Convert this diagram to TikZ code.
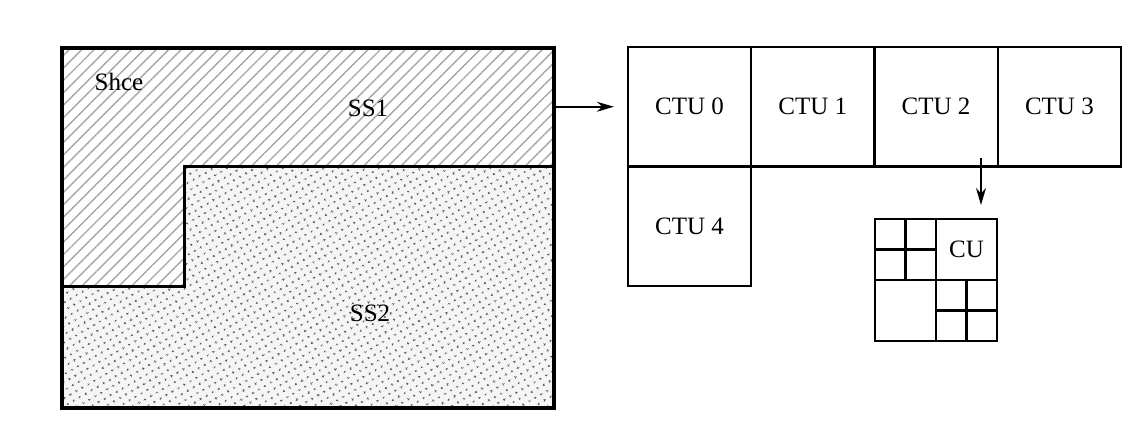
\documentclass[tikz,border=0pt]{standalone}
\usepackage{fontspec}
\setmainfont{Liberation Serif}
\usetikzlibrary{arrows.meta, positioning, patterns.meta, calc}

\begin{document}
\begin{tikzpicture}[
  x=1pt, y=-1pt,
  node distance=0pt,
  cell/.style={draw, line width=2.5pt, minimum width=123.3pt, minimum height=119.5pt,
               inner sep=0pt, outer sep=0pt, font=\fontsize{25}{30}\selectfont},
  lbl/.style={font=\fontsize{25}{30}\selectfont, inner sep=0pt},
  arr/.style={-{Stealth[length=17pt, width=10pt]}, line width=1.6pt},
  grid/.style={line width=2.5pt},
  hatch/.style={pattern={Lines[angle=45, distance=8.8pt, line width=1.4pt]}, pattern color=black!35},
  speckle/.style={preaction={fill=black!4},
                  pattern={Dots[angle=30, distance=6.5pt, radius=1.3pt]}, pattern color=black!65}]
  \useasboundingbox (0,0) rectangle (1130,430);
  % slice with its two segments
  \node[minimum width=492pt, minimum height=360pt, inner sep=0pt, outer sep=0pt] (slice) at (308,228) {};
  \coordinate (kneeup) at (184,167);
  \coordinate (kneedown) at (184,287);
  \path[hatch] (slice.north west) -- (slice.north east) -- (slice.east |- kneeup) -- (kneeup)
    -- (kneedown) -- (slice.west |- kneedown) -- cycle;
  \path[speckle] (slice.west |- kneedown) -- (kneedown) -- (kneeup) -- (slice.east |- kneeup)
    -- (slice.south east) -- (slice.south west) -- cycle;
  \draw[line width=3pt] (slice.west |- kneedown) -- (kneedown) -- (kneeup) -- (slice.east |- kneeup);
  \draw[line width=3.4pt] (slice.south west) rectangle (slice.north east);
  \node[lbl] (shce)  at (119,82)  {Shce};
  \node[lbl] (ssone) at (368,108) {SS1};
  \node[lbl] (sstwo) at (370,313) {SS2};
  % coding tree units
  \node[cell] (ctu0) at (689.5,106.75) {CTU 0};
  \node[cell, right=of ctu0] (ctu1) {CTU 1};
  \node[cell, right=of ctu1] (ctu2) {CTU 2};
  \node[cell, right=of ctu2] (ctu3) {CTU 3};
  \node[cell, below=of ctu0] (ctu4) {CTU 4};
  \draw[arr, shorten >=14pt] (slice.east |- ctu0) -- (ctu0.west);
  % quadtree of coding units
  \node[draw, grid, minimum size=122pt, inner sep=0pt, outer sep=0pt] (cu) at (936,280) {};
  \draw[grid] (cu.north) -- (cu.south) (cu.west) -- (cu.east);
  \draw[grid] ($(cu.north west)!.5!(cu.north)$) -- ($(cu.west)!.5!(cu.center)$)
              ($(cu.north west)!.5!(cu.west)$) -- ($(cu.north)!.5!(cu.center)$);
  \draw[grid] ($(cu.center)!.5!(cu.east)$) -- ($(cu.south)!.5!(cu.south east)$)
              ($(cu.south)!.5!(cu.center)$) -- ($(cu.south east)!.5!(cu.east)$);
  \node[lbl] (culbl) at ($(cu.center)!.5!(cu.north east)$) {CU};
  \coordinate (drop) at ([xshift=-16pt, yshift=14pt]cu.north east);
  \path (ctu2.south -| drop) ++(0,-8) coordinate (dropstart);
  \draw[arr] (dropstart) -- (drop);
\end{tikzpicture}
\end{document}
